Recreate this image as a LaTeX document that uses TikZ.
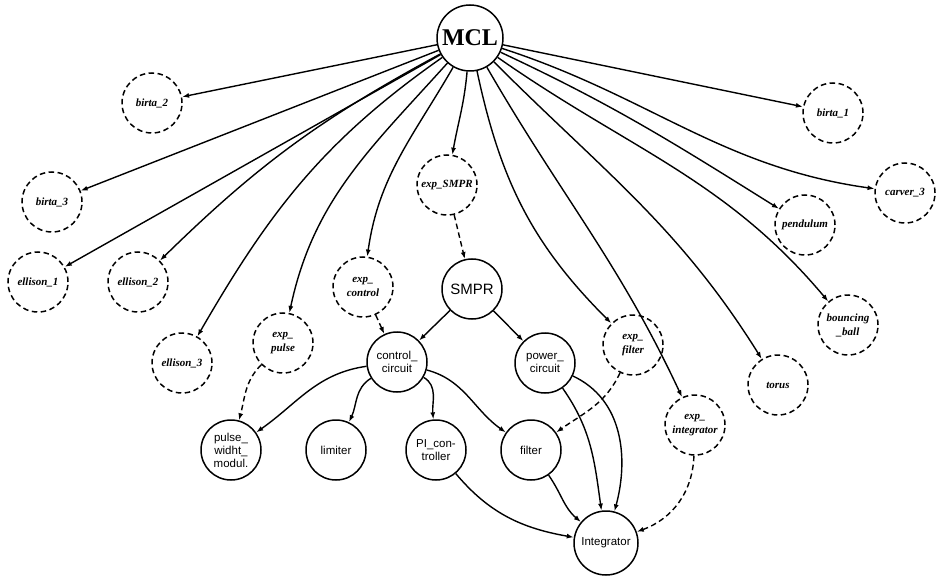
\documentclass[tikz,border=0pt]{standalone}
\usepackage{fontspec}
\setmainfont{Liberation Serif}
\newfontfamily\hv{Liberation Sans}
\usetikzlibrary{arrows.meta}
\begin{document}
\begin{tikzpicture}[x=1pt,y=1pt,
  every node/.style={circle, inner sep=0pt, minimum size=60pt, line width=1.5pt, align=center},
  mcl/.style={draw, minimum size=66pt, font=\fontsize{24}{24}\selectfont\bfseries},
  dnode/.style={draw, dash pattern=on 5.5pt off 3.5pt, font=\fontsize{11}{14}\selectfont\bfseries\itshape},
  snode/.style={draw, font=\hv\fontsize{11.5}{13}\selectfont},
  edge/.style={line width=1.4pt, -{Latex[length=7pt,width=5pt]}},
  dedge/.style={edge, dash pattern=on 5.5pt off 3.5pt}]
\useasboundingbox (0,0) rectangle (939,-577);

\node[mcl] (MCL) at (470,-38) {MCL};

\node[dnode] (b2) at (152,-103) {birta\_2};
\node[dnode] (b3) at (52,-202) {birta\_3};
\node[dnode] (e1) at (38,-282) {ellison\_1};
\node[dnode] (e2) at (138,-282) {ellison\_2};
\node[dnode] (e3) at (182,-363) {ellison\_3};
\node[dnode] (xp) at (283,-343) {exp\_\\pulse};
\node[dnode] (xc) at (363,-287) {exp\_\\control};
\node[dnode] (xs) at (447,-185) {exp\_SMPR};
\node[dnode] (xf) at (633,-345) {exp\_\\filter};
\node[dnode] (xi) at (695,-425) {exp\_\\integrator};
\node[dnode] (to) at (778,-385) {torus};
\node[dnode] (bb) at (848,-325) {bouncing\\\_ball};
\node[dnode] (pe) at (805,-225) {pendulum};
\node[dnode] (c3) at (905,-193) {carver\_3};
\node[dnode] (b1) at (833,-113) {birta\_1};

\node[snode, font=\hv\fontsize{15}{15}\selectfont] (sm) at (472,-289) {SMPR};
\node[snode] (cc) at (397,-362) {control\_\\circuit};
\node[snode] (pc) at (545,-363) {power\_\\circuit};
\node[snode] (pw) at (231,-450) {pulse\_\\widht\_\\modul.};
\node[snode] (li) at (336,-450) {limiter};
\node[snode] (pi) at (436,-450) {PI\_con-\\troller};
\node[snode] (fi) at (531,-450) {filter};
\node[snode, minimum size=64pt] (in) at (606,-543) {Integrator};

% edges from MCL
\draw[edge] (MCL) -- (b2);
\draw[edge] (MCL) -- (b3);
\draw[edge] (MCL) -- (e1);
\draw[edge] (MCL) to[bend right=8] (e2);
\draw[edge] (MCL) to[out=215,in=60] (e3);
\draw[edge] (MCL) to[out=228,in=78] (xp);
\draw[edge] (MCL) to[out=240,in=82] (xc);
\draw[edge] (MCL) to[out=265,in=80] (xs);
\draw[edge] (MCL) to[out=282,in=135] (xf);
\draw[edge] (MCL) to[out=300,in=115] (xi);
\draw[edge] (MCL) to[out=315,in=122] (to);
\draw[edge] (MCL) to[out=325,in=130] (bb);
\draw[edge] (MCL) to[out=335,in=148] (pe);
\draw[edge] (MCL) to[out=342,in=172] (c3);
\draw[edge] (MCL) -- (b1);

% dashed edges
\draw[dedge] (xs) -- (sm);
\draw[dedge] (xc) -- (cc);
\draw[dedge] (xp) to[out=225,in=75] (pw);
\draw[dedge] (xf) to[out=245,in=35] (fi);
\draw[dedge] (xi) to[out=268,in=20] (in);

% solid edges
\draw[edge] (sm) -- (cc);
\draw[edge] (sm) -- (pc);
\draw[edge] (cc) to[out=188,in=35] (pw);
\draw[edge] (cc) to[out=212,in=65] (li);
\draw[edge] (cc) to[out=-30,in=95] (pi);
\draw[edge] (cc) to[out=-15,in=145] (fi);
\draw[edge] (pi) to[out=-50,in=170] (in);
\draw[edge] (fi) to[out=-55,in=140] (in);
\draw[edge] (pc) to[out=-55,in=98] (in);
\draw[edge] (pc) to[out=-25,in=75] (in);
\end{tikzpicture}
\end{document}
